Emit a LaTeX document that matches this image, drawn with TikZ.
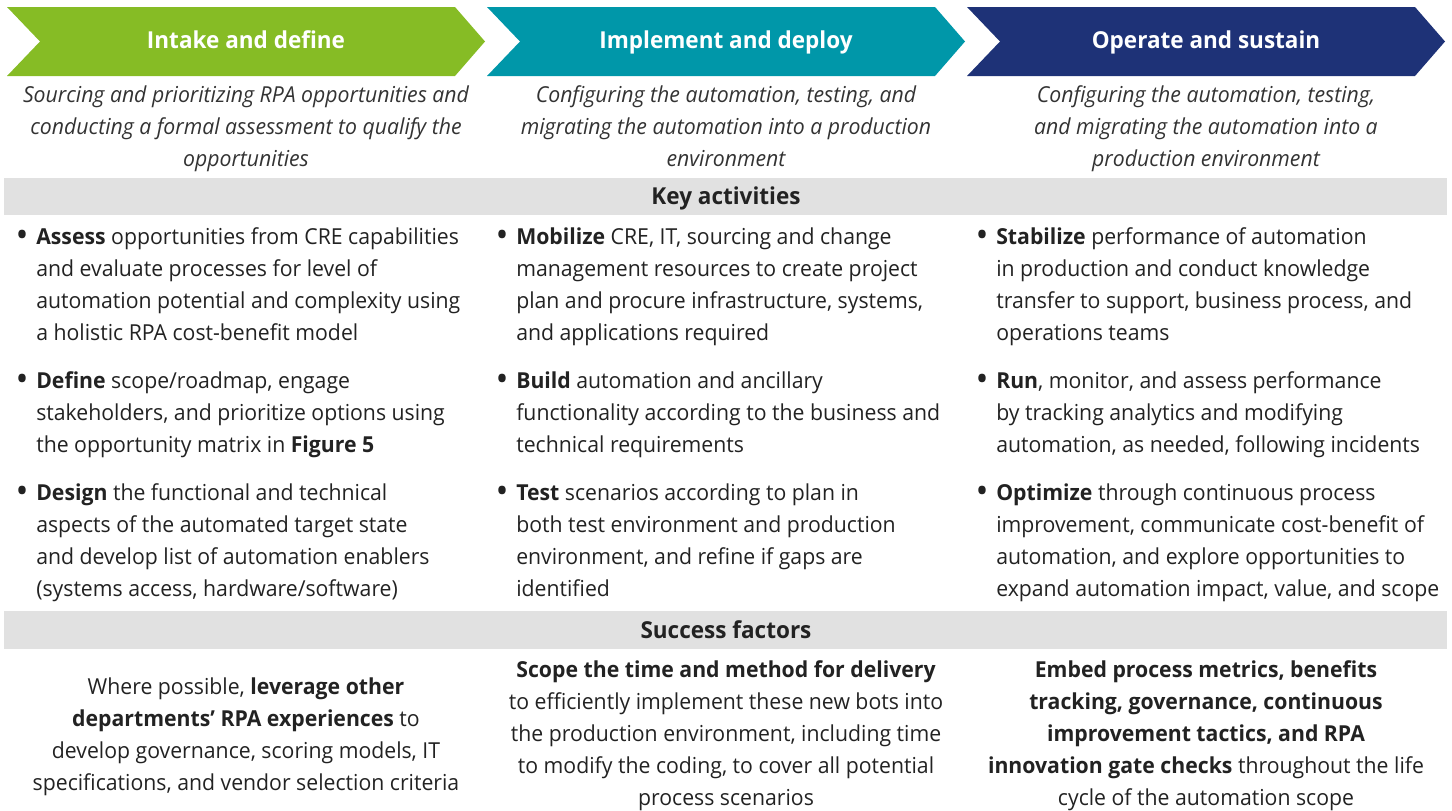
\documentclass[tikz,border=0pt]{standalone}
\usepackage{fontspec}
\setmainfont{Open Sans}[FakeStretch=0.965]
\definecolor{intakegreen}{HTML}{86BC25}
\definecolor{deployteal}{HTML}{0097A9}
\definecolor{sustainnavy}{HTML}{1E3277}
\definecolor{bandgray}{HTML}{E1E1E1}
\definecolor{inkgray}{HTML}{222222}
\definecolor{descgray}{HTML}{333333}
\newcommand{\bodyfont}{\fontsize{16.5}{24}\selectfont}
\newcommand{\headfont}{\fontsize{17.5}{24}\selectfont\bfseries}
\begin{document}
\begin{tikzpicture}[x=0.75pt, y=-0.75pt,
	every node/.style={inner sep=0pt, text=inkgray, font=\bodyfont},
	head/.style={anchor=base, text=white, font=\headfont},
	desc/.style={anchor=base, align=center, text=descgray, font=\bodyfont\itshape},
	bandlabel/.style={anchor=base, font=\headfont},
	item/.style={anchor=base west, align=left},
	dot/.style={anchor=base, font=\bodyfont\bfseries, scale=1.25},
	factor/.style={align=center}]
	\useasboundingbox (0,0) rectangle (1452,810);
	% phase chevrons
	\foreach \x/\col in {0/intakegreen, 480/deployteal, 960/sustainnavy}
		\fill[\col] (\x+7,7) -- (\x+455,7) -- (\x+485,41.5) -- (\x+455,76) -- (\x+7,76) -- (\x+40,41.5) -- cycle;
	\node[head] (intake) at (246,48) {Intake and define};
	\node[head] (deploy) at (726,48) {Implement and deploy};
	\node[head] (sustain) at (1206,48) {Operate and sustain};
	% descriptions (base = last line)
	\node[desc] (intakedesc) at (246,166.5) {Sourcing and prioritizing RPA opportunities and\\conducting a formal assessment to qualify the\\opportunities};
	\node[desc] (deploydesc) at (726,166.5) {Configuring the automation, testing, and\\migrating the automation into a production\\environment};
	\node[desc] (sustaindesc) at (1206,166.5) {Configuring the automation, testing,\\and migrating the automation into a\\production environment};
	% key activities
	\fill[bandgray] (4,178) rectangle (1447,215);
	\node[bandlabel] (keyact) at (726,204) {Key activities};
	\foreach \x/\y/\n in {22/244/a1, 22/388/a2, 22/500/a3, 502/244/b1, 502/388/b2, 502/500/b3, 982/244/c1, 982/388/c2, 982/500/c3}
		\node[dot] (dot\n) at (\x,\y) {\textbullet};
	\node[item] (assess) at (36,340) {\textbf{Assess} opportunities from CRE capabilities\\and evaluate processes for level of\\automation potential and complexity using\\a holistic RPA cost-benefit model};
	\node[item] (define) at (36,452) {\textbf{Define} scope/roadmap, engage\\stakeholders, and prioritize options using\\the opportunity matrix in \textbf{Figure 5}};
	\node[item] (design) at (36,596) {\textbf{Design} the functional and technical\\aspects of the automated target state\\and develop list of automation enablers\\(systems access, hardware/software)};
	\node[item] (mobilize) at (516,340) {\textbf{Mobilize} CRE, IT, sourcing and change\\management resources to create project\\plan and procure infrastructure, systems,\\and applications required};
	\node[item] (build) at (516,452) {\textbf{Build} automation and ancillary\\functionality according to the business and\\technical requirements};
	\node[item] (test) at (516,596) {\textbf{Test} scenarios according to plan in\\both test environment and production\\environment, and refine if gaps are\\identified};
	\node[item] (stabilize) at (996,340) {\textbf{Stabilize} performance of automation\\in production and conduct knowledge\\transfer to support, business process, and\\operations teams};
	\node[item] (run) at (996,452) {\textbf{Run}, monitor, and assess performance\\by tracking analytics and modifying\\automation, as needed, following incidents};
	\node[item] (optimize) at (996,596) {\textbf{Optimize} through continuous process\\improvement, communicate cost-benefit of\\automation, and explore opportunities to\\expand automation impact, value, and scope};
	% success factors
	\fill[bandgray] (4,611) rectangle (1447,649);
	\node[bandlabel] (success) at (726,638) {Success factors};
	\node[factor] (leverage) at (246,737) {Where possible, \textbf{leverage other}\\\textbf{departments’ RPA experiences} to\\develop governance, scoring models, IT\\specifications, and vendor selection criteria};
	\node[factor] (scope) at (726,736) {\textbf{Scope the time and method for delivery}\\to efficiently implement these new bots into\\the production environment, including time\\to modify the coding, to cover all potential\\process scenarios};
	\node[factor] (embed) at (1206,736) {\textbf{Embed process metrics, benefits}\\\textbf{tracking, governance, continuous}\\\textbf{improvement tactics, and RPA}\\\textbf{innovation gate checks} throughout the life\\cycle of the automation scope};
\end{tikzpicture}
\end{document}
